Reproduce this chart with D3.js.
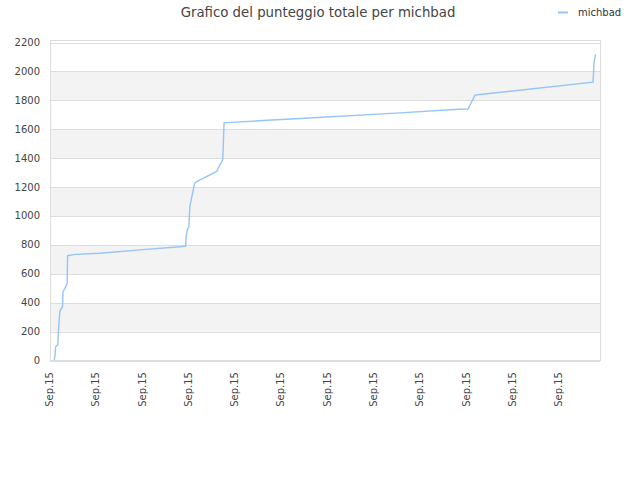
<!DOCTYPE html>
<html>
<head>
<meta charset="utf-8">
<script src="https://cdn.jsdelivr.net/npm/d3@7.9.0/dist/d3.min.js"></script>
<style>
  body { margin: 0; background: #fff; }
  svg { font-family: "DejaVu Sans", sans-serif; }
</style>
</head>
<body>
<svg id="chart" width="640" height="480"></svg>
<script>
// Chart data (x in tick units, one tick per "Sep.15" label)
const title = "Grafico del punteggio totale per michbad";
const seriesName = "michbad";
const tickLabels = ["Sep.15", "Sep.15", "Sep.15", "Sep.15", "Sep.15", "Sep.15",
                    "Sep.15", "Sep.15", "Sep.15", "Sep.15", "Sep.15", "Sep.15"];
const xPos = [0.09, 0.11, 0.12, 0.17, 0.18, 0.21, 0.22, 0.27, 0.28, 0.32, 0.37, 0.38,
              0.54, 1.08, 1.94, 2.81, 2.93, 2.94, 2.965, 3.0, 3.01, 3.02, 3.05, 3.08,
              3.125, 3.17, 3.6, 3.635, 3.71, 3.73, 3.74, 3.76, 4.1, 5.4, 7.56, 8.83,
              9.03, 9.18, 9.29, 11.73, 11.75, 11.77, 11.79];
const scores = [5, 38, 93, 111, 197, 326, 347, 370, 474, 498, 532, 725,
                734, 742, 765, 787, 792, 856, 903, 926, 995, 1065, 1111, 1157,
                1227, 1238, 1308, 1331, 1377, 1389, 1458, 1644, 1651, 1674, 1713, 1738,
                1740, 1836, 1840, 1926, 2060, 2095, 2118];
const yTicks = d3.range(0, 2201, 200);

const svg = d3.select('#chart');
const plotLeft = 50, plotRight = 600, plotTop = 42.5, plotBottom = 360.5;

const x = d3.scaleLinear().domain([0, 11.88]).range([plotLeft, plotRight]);
const y = d3.scaleLinear().domain([0, 2200]).range([plotBottom, plotTop]);

// alternating background bands
const bands = yTicks.slice(0, -1).filter((d, i) => i % 2 === 1);
svg.selectAll('rect.band')
  .data(bands)
  .join('rect')
  .attr('class', 'band')
  .attr('x', plotLeft)
  .attr('width', plotRight - plotLeft)
  .attr('y', d => y(d + 200))
  .attr('height', d => y(d) - y(d + 200))
  .attr('fill', '#f3f3f3');

// horizontal grid lines
svg.selectAll('line.grid')
  .data(yTicks)
  .join('line')
  .attr('class', 'grid')
  .attr('x1', plotLeft).attr('x2', plotRight)
  .attr('y1', d => Math.round(y(d)) + 0.5)
  .attr('y2', d => Math.round(y(d)) + 0.5)
  .attr('stroke', '#dddddd');

// frame
svg.append('rect')
  .attr('x', plotLeft + 0.5).attr('y', 40.5)
  .attr('width', plotRight - plotLeft).attr('height', 320)
  .attr('fill', 'none')
  .attr('stroke', '#dddddd');

// y labels
svg.selectAll('text.ylab')
  .data(yTicks)
  .join('text')
  .attr('class', 'ylab')
  .attr('x', 40)
  .attr('y', d => y(d))
  .attr('dy', '0.35em')
  .attr('text-anchor', 'end')
  .attr('font-size', 10)
  .attr('fill', '#444')
  .text(d => d);

// x labels, rotated
svg.selectAll('text.xlab')
  .data(tickLabels)
  .join('text')
  .attr('class', 'xlab')
  .attr('transform', (d, i) => `translate(${x(i) - 0.5},372) rotate(-90)`)
  .attr('dy', '0.35em')
  .attr('text-anchor', 'end')
  .attr('font-size', 10)
  .attr('fill', '#444')
  .text(d => d);

// the score line
const line = d3.line()
  .x((d, i) => x(xPos[i]))
  .y(d => y(d));

svg.append('path')
  .attr('d', line(scores))
  .attr('fill', 'none')
  .attr('stroke', '#94c5f6')
  .attr('stroke-width', 1.4);

// title
svg.append('text')
  .attr('x', 318).attr('y', 16.5)
  .attr('text-anchor', 'middle')
  .attr('font-size', 13.3)
  .attr('fill', '#444')
  .text(title);

// legend
svg.append('line')
  .attr('x1', 558).attr('x2', 568)
  .attr('y1', 12.5).attr('y2', 12.5)
  .attr('stroke', '#94c5f6')
  .attr('stroke-width', 2);
svg.append('text')
  .attr('x', 578).attr('y', 16)
  .attr('font-size', 10)
  .attr('fill', '#333')
  .text(seriesName);
</script>
</body>
</html>
